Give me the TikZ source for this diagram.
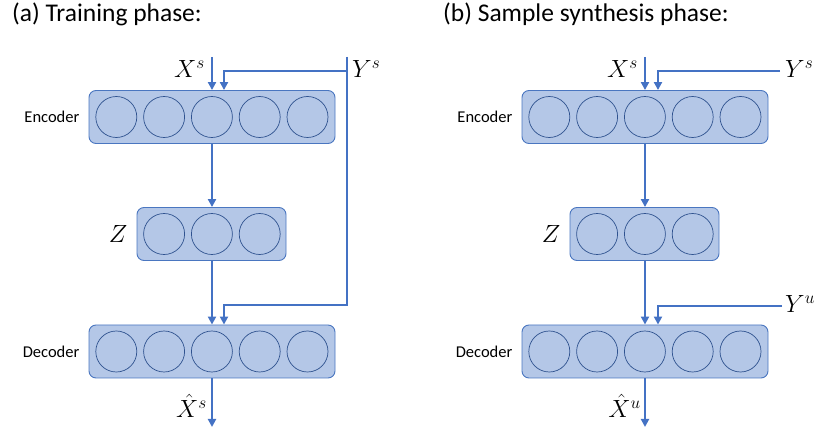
\documentclass[tikz,border=0pt]{standalone}
\usepackage{amsmath}
\usepackage{fontspec}
\setmainfont{Carlito}
\usetikzlibrary{arrows.meta, positioning, calc}
\definecolor{arrowblue}{HTML}{4472C4}
\definecolor{boxfill}{HTML}{B4C7E7}
\definecolor{boxline}{HTML}{4A76C0}
\definecolor{unitline}{HTML}{2F528F}

\begin{document}
\begin{tikzpicture}[x=1pt, y=-1pt, every node/.style={inner sep=0pt}]
    \tikzset{layer/.style={draw=boxline, fill=boxfill, rounded corners=7pt, line width=0.9pt, minimum height=53pt},
             unit/.style={circle, draw=unitline, line width=0.7pt, minimum size=41pt},
             flow/.style={draw=arrowblue, line width=2.6pt, -{Triangle[length=8pt, width=8pt]}},
             side/.style={font=\fontsize{16.5}{18}\selectfont},
             var/.style={font=\fontsize{23}{25}\selectfont},
             title/.style={font=\fontsize{25.5}{28}\selectfont, anchor=base west}}
    \useasboundingbox (0,0) rectangle (815,430);

    % (a) training
    \node[title] (ta) at (12,22) {(a) Training phase:};
    \node[layer, minimum width=246pt] (encA) at (212,117) {};
    \node[layer, minimum width=149pt] (zA) at (211.5,234) {};
    \node[layer, minimum width=246pt] (decA) at (212,351.5) {};
    \foreach \i in {1,...,5} {
      \node[unit] (encA\i) at (68.5+47.8*\i,117) {};
      \node[unit] (decA\i) at (68.5+47.8*\i,351.5) {};
    }
    \foreach \i in {1,2,3} \node[unit] (zA\i) at (116.3+47.8*\i,234) {};
    \node[side, left=9pt of encA] (encAlab) {Encoder};
    \node[side, left=9pt of decA] (decAlab) {Decoder};
    \node[var, left=9pt of zA] (zAlab) {$Z$};
    \coordinate (xsA) at (212,57);
    \coordinate (ysA) at (347,57);
    \coordinate (ysAturn) at (347,305);
    \coordinate (outA) at (212,427);
    \node[var, anchor=east] (xsAlab) at (205,69) {$X^s$};
    \node[var, anchor=west] (ysAlab) at (352,69) {$Y^s$};
    \node[var, anchor=east] (outAlab) at (207,406) {$\hat{X}^s$};
    \draw[flow] (xsA) -- (encA.north);
    \draw[flow] (ysA) -- (347,71) -| ([xshift=12pt]encA.north);
    \draw[flow] (ysA) -- (ysAturn) -| ([xshift=12pt]decA.north);
    \draw[flow] (encA.south) -- (zA.north -| encA.south);
    \draw[flow] (zA.south -| decA.north) -- (decA.north);
    \draw[flow] (decA.south) -- (outA);

    % (b) sample synthesis
    \node[title] (tb) at (443,22) {(b) Sample synthesis phase:};
    \node[layer, minimum width=246pt] (encB) at (645,117) {};
    \node[layer, minimum width=149pt] (zB) at (644.5,234) {};
    \node[layer, minimum width=246pt] (decB) at (645,351.5) {};
    \foreach \i in {1,...,5} {
      \node[unit] (encB\i) at (501.5+47.8*\i,117) {};
      \node[unit] (decB\i) at (501.5+47.8*\i,351.5) {};
    }
    \foreach \i in {1,2,3} \node[unit] (zB\i) at (549.3+47.8*\i,234) {};
    \node[side, left=9pt of encB] (encBlab) {Encoder};
    \node[side, left=9pt of decB] (decBlab) {Decoder};
    \node[var, left=9pt of zB] (zBlab) {$Z$};
    \coordinate (xsB) at (645,57);
    \coordinate (ysB) at (780,71);
    \coordinate (yuB) at (782,306);
    \coordinate (outB) at (645,427);
    \node[var, anchor=east] (xsBlab) at (638,69) {$X^s$};
    \node[var, anchor=west] (ysBlab) at (785,69) {$Y^s$};
    \node[var, anchor=west] (yuBlab) at (785,304) {$Y^u$};
    \node[var, anchor=east] (outBlab) at (641,406) {$\hat{X}^u$};
    \draw[flow] (xsB) -- (encB.north);
    \draw[flow] (ysB) -| ([xshift=13pt]encB.north);
    \draw[flow] (yuB) -| ([xshift=13pt]decB.north);
    \draw[flow] (encB.south) -- (zB.north -| encB.south);
    \draw[flow] (zB.south -| decB.north) -- (decB.north);
    \draw[flow] (decB.south) -- (outB);
\end{tikzpicture}
\end{document}
